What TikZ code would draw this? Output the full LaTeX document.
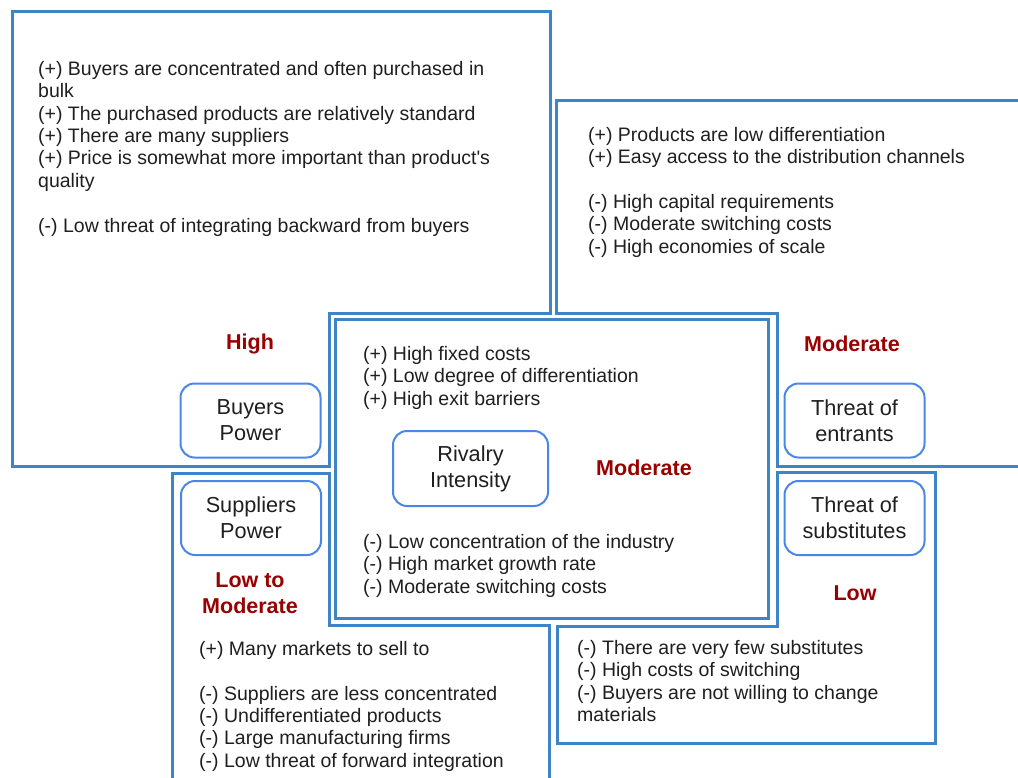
\documentclass[tikz,border=0pt]{standalone}
\usepackage{fontspec}
\setmainfont{Liberation Sans}
\definecolor{frameblue}{HTML}{3D85C6}
\definecolor{boxblue}{HTML}{4A86E8}
\definecolor{ratingred}{HTML}{990000}
\definecolor{inktext}{HTML}{1F1F1F}
\tikzset{
  frame/.style={draw=frameblue, line width=3pt, fill=white},
  forcebox/.style={draw=boxblue, line width=2pt, rounded corners=14pt, fill=white,
    minimum width=140pt, minimum height=74pt, align=center, inner sep=0pt,
    text=inktext, font=\fontsize{21.7}{26}\selectfont},
  rating/.style={text=ratingred, align=center, inner sep=0pt,
    font=\fontsize{21.5}{26}\selectfont\bfseries},
  notes/.style={anchor=north west, align=left, inner sep=0pt, text=inktext,
    font=\fontsize{19.5}{22.4}\selectfont}
}
\begin{document}
\begin{tikzpicture}[x=1pt, y=-1pt]
\clip (0,0) rectangle (1018,777);
\fill[white] (0,0) rectangle (1018,777);

% Four outer panels, each wrapped around the central rivalry panel
\draw[frame] (12,11) -- (550,11) -- (550,313) -- (329,313) -- (329,466) -- (12,466) -- cycle;
\draw[frame] (556,100) -- (1040,100) -- (1040,466) -- (777,466) -- (777,313) -- (556,313) -- cycle;
\draw[frame] (172,473) -- (329,473) -- (329,625) -- (549,625) -- (549,800) -- (172,800) -- cycle;
\draw[frame] (777,472) -- (935,472) -- (935,743) -- (557,743) -- (557,626) -- (777,626) -- cycle;

% Central rivalry panel
\draw[frame] (335,319) rectangle (768,618);

% Notes
\node[notes] (buyersnotes) at (38,61) {(+) Buyers are concentrated and often purchased in\\bulk\\(+) The purchased products are relatively standard\\(+) There are many suppliers\\(+) Price is somewhat more important than product\textquotesingle s\\quality\\[22.4pt](-) Low threat of integrating backward from buyers};
\node[notes] (entrantsnotes) at (588,127) {(+) Products are low differentiation\\(+) Easy access to the distribution channels\\[22.4pt](-) High capital requirements\\(-) Moderate switching costs\\(-) High economies of scale};
\node[notes] (rivalryplus) at (363,346) {(+) High fixed costs\\(+) Low degree of differentiation\\(+) High exit barriers};
\node[notes] (rivalryminus) at (363,534) {(-) Low concentration of the industry\\(-) High market growth rate\\(-) Moderate switching costs};
\node[notes] (suppliersnotes) at (199,641) {(+) Many markets to sell to\\[22.4pt](-) Suppliers are less concentrated\\(-) Undifferentiated products\\(-) Large manufacturing firms\\(-) Low threat of forward integration};
\node[notes] (substitutesnotes) at (577,640) {(-) There are very few substitutes\\(-) High costs of switching\\(-) Buyers are not willing to change\\materials};

% Forces
\node[forcebox] (buyers) at (250.5,420.5) {Buyers\\Power};
\node[forcebox] (entrants) at (854.5,420.5) {Threat of\\entrants};
\node[forcebox, minimum width=155pt, minimum height=75pt] (rivalry) at (470.5,468.5) {Rivalry\\Intensity};
\node[forcebox] (suppliers) at (251,518) {Suppliers\\Power};
\node[forcebox] (substitutes) at (854.5,518) {Threat of\\substitutes};

% Ratings
\node[rating] (buyersrating) at (250,344) {High};
\node[rating] (entrantsrating) at (852,344) {Moderate};
\node[rating] (rivalryrating) at (644,468) {Moderate};
\node[rating] (suppliersrating) at (250,593) {Low to\\Moderate};
\node[rating] (substitutesrating) at (855,593) {Low};
\end{tikzpicture}
\end{document}
